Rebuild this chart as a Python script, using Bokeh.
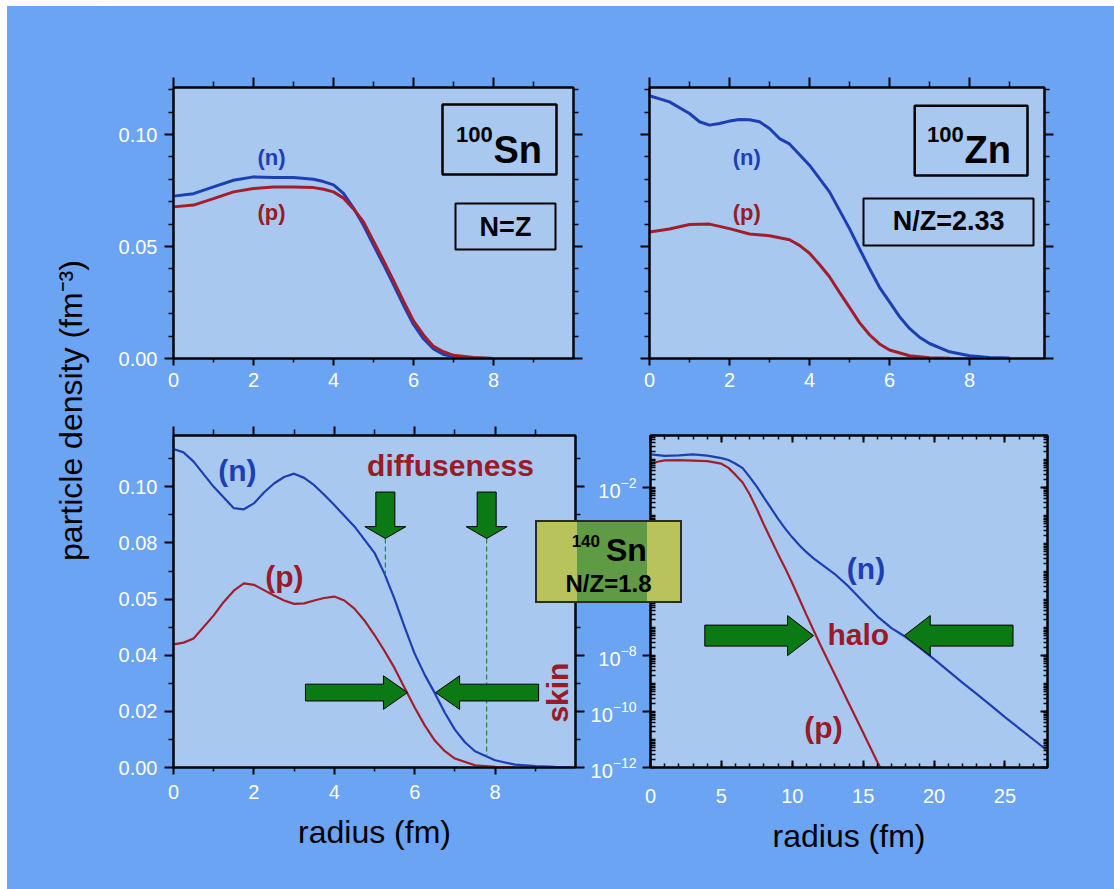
import math
import numpy as np
from bokeh.plotting import figure
from bokeh.layouts import row, column
from bokeh.models import (Range1d, LinearAxis, LogAxis, FixedTicker, Label, Div,
                          BoxAnnotation, CustomJSTickFormatter, PrintfTickFormatter)
from bokeh.embed import file_html
from bokeh.resources import INLINE

# ---------------- data ----------------
# 100Sn (top left)
r_sn100 = [0.0, 0.5, 1.0, 1.5, 2.0, 2.5, 3.0, 3.5, 3.75, 4.0, 4.25, 4.5, 4.75, 5.0, 5.25, 5.5, 5.75,
           6.0, 6.25, 6.5, 6.75, 7.0, 7.5, 8.0]
n_sn100 = [0.0725, 0.0736, 0.0766, 0.0796, 0.0811, 0.0808, 0.0808, 0.0800, 0.0790, 0.0775, 0.0737,
           0.0672, 0.0595, 0.0506, 0.0420, 0.0330, 0.0238, 0.0152, 0.0088, 0.0043, 0.0018, 0.0009,
           0.0002, 0.0]
p_sn100 = [0.0677, 0.0685, 0.0714, 0.0744, 0.0759, 0.0766, 0.0766, 0.0763, 0.0756, 0.0744, 0.0716,
           0.0668, 0.0610, 0.0524, 0.0437, 0.0348, 0.0256, 0.0168, 0.0105, 0.0054, 0.0030, 0.0014,
           0.0004, 0.0]

# 100Zn (top right)
r_zn100_n = [0.0, 0.5, 1.0, 1.25, 1.5, 1.75, 2.0, 2.25, 2.5, 2.75, 3.0, 3.25, 3.5, 4.0, 4.5, 5.0,
             5.25, 5.5, 5.75, 6.0, 6.25, 6.5, 6.75, 7.0, 7.5, 8.0, 8.5, 9.0]
n_zn100 = [0.1173, 0.1146, 0.1094, 0.1057, 0.1042, 0.1049, 0.1060, 0.1067, 0.1066, 0.1057, 0.1027,
           0.0982, 0.0958, 0.0863, 0.0744, 0.0580, 0.0490, 0.0402, 0.0318, 0.0253, 0.0187, 0.0134,
           0.0095, 0.0067, 0.0030, 0.0012, 0.0005, 0.0002]
r_zn100_p = [0.0, 0.5, 1.0, 1.5, 2.0, 2.5, 3.0, 3.5, 3.75, 4.0, 4.25, 4.5, 4.75, 5.0, 5.25, 5.5,
             5.75, 6.0, 6.5, 7.0, 7.5]
p_zn100 = [0.0565, 0.0578, 0.0598, 0.0600, 0.0580, 0.0556, 0.0548, 0.0530, 0.0505, 0.0470, 0.0420,
           0.0365, 0.0295, 0.0228, 0.0160, 0.0106, 0.0065, 0.0038, 0.0012, 0.0003, 0.0001]

# 140Sn linear (bottom left)
r_sn140_n = [0.0, 0.25, 0.5, 1.0, 1.5, 1.75, 2.0, 2.25, 2.5, 2.75, 3.0, 3.25, 3.5, 3.75, 4.0, 4.5,
             5.0, 5.25, 5.5, 5.75, 6.0, 6.25, 6.5, 6.75, 7.0, 7.25, 7.5, 8.0, 8.5, 9.0, 9.5, 9.9]
n_sn140 = [0.1135, 0.1123, 0.1090, 0.1000, 0.0924, 0.0920, 0.0941, 0.0980, 0.1012, 0.1035, 0.1047,
           0.1032, 0.1006, 0.0972, 0.0935, 0.0859, 0.0765, 0.0690, 0.0600, 0.0500, 0.0405, 0.0330,
           0.0265, 0.0195, 0.0135, 0.0090, 0.0058, 0.0026, 0.0010, 0.0005, 0.0002, 0.0001]
r_sn140_p = [0.0, 0.25, 0.5, 1.0, 1.25, 1.5, 1.75, 2.0, 2.25, 2.5, 2.75, 3.0, 3.25, 3.5, 3.75, 4.0,
             4.25, 4.5, 4.75, 5.0, 5.25, 5.5, 5.75, 6.0, 6.25, 6.5, 6.75, 7.0, 7.5, 8.0, 8.5]
p_sn140 = [0.0439, 0.0445, 0.0460, 0.0542, 0.0590, 0.0630, 0.0656, 0.0651, 0.0632, 0.0613, 0.0595,
           0.0583, 0.0585, 0.0595, 0.0604, 0.0609, 0.0595, 0.0566, 0.0524, 0.0472, 0.0415, 0.0354,
           0.0283, 0.0214, 0.0150, 0.0096, 0.0058, 0.0032, 0.0008, 0.0002, 0.0]

# 140Sn logarithmic (bottom right), log10 of the density
r_log_n = [0, 1, 2, 3, 4, 5, 5.5, 6, 6.5, 7, 7.5, 8, 8.5, 9, 9.5, 10, 10.5, 11, 11.5, 12,
           13, 14, 15, 16, 17, 18, 19, 20, 21, 22, 23, 24, 25, 26, 27, 28]
log10_n_sn140 = [-0.82, -0.87, -0.85, -0.82, -0.86, -0.95, -1.02, -1.15, -1.31, -1.63, -1.97, -2.36,
                 -2.74, -3.12, -3.47, -3.78, -4.06, -4.31, -4.53, -4.72, -5.09, -5.55, -6.08, -6.60,
                 -7.02, -7.34, -7.73, -8.13, -8.55, -8.97, -9.37, -9.78, -10.2, -10.6, -11.0, -11.4]
r_log_p = [0, 0.5, 1, 2, 3, 4, 5, 5.5, 6, 6.5, 7, 7.5, 8, 8.5, 9, 9.5, 10, 10.5, 11, 11.5, 12,
           13, 14, 15, 16, 16.2]
log10_p_sn140 = [-1.15, -1.08, -1.03, -1.02, -1.04, -1.06, -1.15, -1.30, -1.55, -1.82, -2.25, -2.77,
                 -3.33, -3.86, -4.38, -4.88, -5.42, -5.98, -6.55, -7.10, -7.64, -8.68, -9.72, -10.76,
                 -11.80, -12.0]

# ticks / tick labels
x_ticks_lin = [0, 2, 4, 6, 8]
x_minor_lin = [1, 3, 5, 7, 9]
y_ticks_top = [0.0, 0.05, 0.10]
y_minor_top = [0.01, 0.02, 0.03, 0.04, 0.06, 0.07, 0.08, 0.09, 0.11, 0.12]
y_ticks_bl = [0.0, 0.02, 0.04, 0.06, 0.08, 0.10]
y_minor_bl = [0.01, 0.03, 0.05, 0.07, 0.09, 0.11]
y_label_override_bl = {0.06: "0.05"}
x_ticks_log = [0, 5, 10, 15, 20, 25]
x_minor_log = list(range(0, 29))
y_ticks_log = [1e-12, 1e-10, 1e-8, 1e-2]
y_minor_log = [k * 10.0 ** e for e in range(-12, 0) for k in range(1, 10)]

# annotation anchors (data units)
diff_x = [5.27, 7.79]
diff_tip_y = 0.0816
skin_tips = [(5.82, 0.0267), (6.52, 0.0267)]
halo_tips = [(11.5, 10 ** -7.29), (17.9, 10 ** -7.29)]

# ---------------- style ----------------
BG = "#6aa4f3"
PANEL = "#a9c8ef"
BLUE = "#1c3fb3"
RED = "#a31e2c"
TRED = "#981b27"
GREEN = "#0c7a14"
FONT = "Liberation Sans"


def base_fig(w, h, xr, yr, L, R, T, B, ylog=False):
    p = figure(width=w, height=h, x_range=Range1d(*xr), y_range=Range1d(*yr),
               y_axis_type="log" if ylog else "linear",
               x_axis_location=None, y_axis_location=None,
               toolbar_location=None, output_backend="svg",
               min_border_left=L, min_border_right=R, min_border_top=T, min_border_bottom=B,
               background_fill_color=PANEL, border_fill_color=BG,
               outline_line_color="black", outline_line_width=2)
    p.xgrid.grid_line_color = None
    p.ygrid.grid_line_color = None
    return p


def axis(p, side, ticks, minor, labels=True, log=False, fmt=None, tin=0, tout=9, mtin=0, mtout=5,
         standoff=6, overrides=None, title=None, title_standoff=4):
    Ax = LogAxis if log else LinearAxis
    ax = Ax(ticker=FixedTicker(ticks=ticks, minor_ticks=minor))
    ax.axis_line_color = "black"
    ax.axis_line_width = 2
    ax.major_tick_line_color = "black"
    ax.major_tick_line_width = 2
    ax.minor_tick_line_color = "black"
    ax.minor_tick_line_width = 1.5
    ax.major_tick_in = tin
    ax.major_tick_out = tout
    ax.minor_tick_in = mtin
    ax.minor_tick_out = mtout
    ax.major_label_text_color = "white"
    ax.major_label_text_font = FONT
    ax.major_label_text_font_size = "20px"
    ax.major_label_standoff = standoff
    if not labels:
        ax.formatter = CustomJSTickFormatter(code="return ''")
        ax.major_label_standoff = 0
    elif fmt is not None:
        ax.formatter = fmt
    if overrides:
        ax.major_label_overrides = overrides
    if title:
        ax.axis_label = title
        ax.axis_label_text_font = FONT
        ax.axis_label_text_font_size = "32px"
        ax.axis_label_text_font_style = "normal"
        ax.axis_label_text_color = "black"
        ax.axis_label_standoff = title_standoff
    p.add_layout(ax, side)
    return ax


def lab(p, x, y, text, size, color="black", bold=True, align="center", angle=0.0):
    # y is the vertical centre of the text
    p.add_layout(Label(x=x, y=y, text=text, text_font=FONT, text_font_size=f"{size}px",
                       text_font_style="bold" if bold else "normal", text_color=color,
                       text_align=align, text_baseline="middle", angle=angle))


def frame_box(p, l, r, b, t, lw=2):
    p.add_layout(BoxAnnotation(left=l, right=r, bottom=b, top=t, fill_color=None, fill_alpha=0,
                               line_color="black", line_alpha=1, line_width=lw))


def h_arrow(tip_x, tip_y, direction, length_px, shaft_px, head_px, head_len_px, sx, yshift):
    tail = tip_x - direction * length_px / sx
    base = tip_x - direction * head_len_px / sx
    xs = [tail, base, base, tip_x, base, base, tail]
    ys = [yshift(tip_y, shaft_px), yshift(tip_y, shaft_px), yshift(tip_y, head_px), tip_y,
          yshift(tip_y, -head_px), yshift(tip_y, -shaft_px), yshift(tip_y, -shaft_px)]
    return xs, ys


def v_arrow(tip_x, tip_y, length_px, shaft_px, head_px, head_len_px, sx, sy):
    top = tip_y + length_px / sy
    base = tip_y + head_len_px / sy
    xs = [tip_x - shaft_px / sx, tip_x + shaft_px / sx, tip_x + shaft_px / sx, tip_x + head_px / sx,
          tip_x, tip_x - head_px / sx, tip_x - shaft_px / sx]
    ys = [top, top, base, base, tip_y, base, base]
    return xs, ys


TOP_H, BOT_H = 392, 491

# ---------------- left strip with the common y title ----------------
S_W, S_H = 93, TOP_H + BOT_H
S = figure(width=S_W, height=S_H, x_range=Range1d(0, S_W), y_range=Range1d(0, S_H),
           x_axis_location=None, y_axis_location=None, toolbar_location=None,
           output_backend="svg", min_border=0, outline_line_color=None,
           background_fill_color=BG, border_fill_color=BG)
S.xgrid.grid_line_color = None
S.ygrid.grid_line_color = None
S.add_layout(Label(x=63, y=S_H - 404, text="particle density (fm⁻³)", angle=math.pi / 2,
                   text_align="center", text_baseline="middle", text_font=FONT,
                   text_font_size="32px", text_color="black"))

# ---------------- top left: 100Sn ----------------
TL = base_fig(511, TOP_H, (0, 10), (0, 0.121), 73, 38, 81, 40)
axis(TL, "below", x_ticks_lin, x_minor_lin, tout=7, mtout=4, standoff=7)
axis(TL, "above", x_ticks_lin, x_minor_lin, labels=False, tout=10, mtout=6)
axis(TL, "left", y_ticks_top, y_minor_top, fmt=PrintfTickFormatter(format="%.2f"), standoff=7)
axis(TL, "right", y_ticks_top, y_minor_top, labels=False)
TL.line(r_sn100, n_sn100, line_color=BLUE, line_width=3)
TL.line(r_sn100, p_sn100, line_color=RED, line_width=3)
lab(TL, 2.45, 0.0897, "(n)", 22, BLUE)
lab(TL, 2.45, 0.0652, "(p)", 22, TRED)
frame_box(TL, 6.725, 9.575, 0.0821, 0.1134, lw=2.5)
lab(TL, 8.0, 0.0933, "Sn", 38, align="left")
lab(TL, 7.98, 0.1000, "100", 22, align="right")
frame_box(TL, 7.05, 9.55, 0.0487, 0.0692)
lab(TL, 8.3, 0.0589, "N=Z", 27)

# ---------------- top right: 100Zn ----------------
TR = base_fig(503, TOP_H, (0, 9.875), (0, 0.121), 38, 70, 81, 40)
axis(TR, "below", x_ticks_lin, x_minor_lin, tout=7, mtout=4, standoff=7)
axis(TR, "above", x_ticks_lin, x_minor_lin, labels=False, tout=10, mtout=6)
axis(TR, "left", y_ticks_top, y_minor_top, labels=False)
axis(TR, "right", y_ticks_top, y_minor_top, labels=False)
TR.line(r_zn100_n, n_zn100, line_color=BLUE, line_width=3)
TR.line(r_zn100_p, p_zn100, line_color=RED, line_width=3)
lab(TR, 2.43, 0.0897, "(n)", 22, BLUE)
lab(TR, 2.43, 0.0652, "(p)", 22, TRED)
frame_box(TR, 6.63, 9.45, 0.0817, 0.1129, lw=2.5)
lab(TR, 7.875, 0.0933, "Zn", 38, align="left")
lab(TR, 7.855, 0.1000, "100", 22, align="right")
frame_box(TR, 5.35, 9.6, 0.0504, 0.0714)
lab(TR, 7.48, 0.0612, "N/Z=2.33", 27)

# ---------------- bottom left: 140Sn linear ----------------
BL_W, BL_L, BL_R, BL_T, BL_B = 487, 73, 12, 37, 118
BL_X, BL_Y = (0, 10), (0, 0.1183)
BL = base_fig(BL_W, BOT_H, BL_X, BL_Y, BL_L, BL_R, BL_T, BL_B)
bl_sx = (BL_W - BL_L - BL_R) / (BL_X[1] - BL_X[0])
bl_sy = (BOT_H - BL_T - BL_B) / (BL_Y[1] - BL_Y[0])
axis(BL, "below", x_ticks_lin, x_minor_lin, tout=7, mtout=4, standoff=10, title="radius (fm)",
     title_standoff=12)
axis(BL, "above", x_ticks_lin, x_minor_lin, labels=False, tout=9, mtout=6)
axis(BL, "left", y_ticks_bl, y_minor_bl, fmt=PrintfTickFormatter(format="%.2f"), standoff=7,
     overrides=y_label_override_bl)
axis(BL, "right", y_ticks_bl, y_minor_bl, labels=False)
BL.line(r_sn140_n, n_sn140, line_color=BLUE, line_width=2.2)
BL.line(r_sn140_p, p_sn140, line_color=RED, line_width=2.2)
diff_bottom = list(np.interp(diff_x, r_sn140_n, n_sn140))
BL.segment(x0=diff_x, y0=[diff_tip_y] * 2, x1=diff_x, y1=diff_bottom,
           line_color="#1f8a3c", line_width=1.2, line_dash="5 3")
arr_xs, arr_ys = [], []
for dx in diff_x:
    xs, ys = v_arrow(dx, diff_tip_y, 47, 9.5, 20.5, 12, bl_sx, bl_sy)
    arr_xs.append(xs)
    arr_ys.append(ys)
lin_shift = lambda y, d: y + d / bl_sy
for (tx, ty), direction, length in zip(skin_tips, [1, -1], [102, 103]):
    xs, ys = h_arrow(tx, ty, direction, length, 8.5, 17, 24, bl_sx, lin_shift)
    arr_xs.append(xs)
    arr_ys.append(ys)
BL.patches(arr_xs, arr_ys, fill_color=GREEN, line_color="black", line_width=1)
lab(BL, 1.59, 0.1059, "(n)", 30, BLUE)
lab(BL, 2.76, 0.0679, "(p)", 30, TRED)
lab(BL, 6.89, 0.1076, "diffuseness", 30, TRED)
lab(BL, 9.55, 0.0267, "skin", 30, TRED, angle=math.pi / 2)

# ---------------- bottom right: 140Sn logarithmic ----------------
BR_W, BR_L, BR_R, BR_T, BR_B = 527, 62, 67, 37, 122
BR_X = (0, 28)
DEC_PX = 28.0
BR_Y = (1e-12, 10 ** (-12 + (BOT_H - BR_T - BR_B) / DEC_PX))
BR = base_fig(BR_W, BOT_H, BR_X, BR_Y, BR_L, BR_R, BR_T, BR_B, ylog=True)
br_sx = (BR_W - BR_L - BR_R) / (BR_X[1] - BR_X[0])
axis(BR, "below", x_ticks_log, x_minor_log, tin=7, tout=0, mtin=4, mtout=0, standoff=21,
     title="radius (fm)", title_standoff=12)
axis(BR, "above", x_ticks_log, x_minor_log, labels=False, tin=7, tout=0, mtin=4, mtout=0)
axis(BR, "left", y_ticks_log, y_minor_log, log=True, tin=0, tout=8, mtin=5, mtout=0, standoff=6)
axis(BR, "right", y_ticks_log, y_minor_log, log=True, labels=False, tin=7, tout=0, mtin=4, mtout=0)
BR.line(r_log_n, list(np.power(10.0, log10_n_sn140)), line_color=BLUE, line_width=2.2)
BR.line(r_log_p, list(np.power(10.0, log10_p_sn140)), line_color=RED, line_width=2.2)
log_shift = lambda y, d: y * 10 ** (d / DEC_PX)
hx, hy = [], []
for (tx, ty), direction in zip(halo_tips, [1, -1]):
    xs, ys = h_arrow(tx, ty, direction, 109, 10.5, 20, 26, br_sx, log_shift)
    hx.append(xs)
    hy.append(ys)
BR.patches(hx, hy, fill_color=GREEN, line_color="black", line_width=1)
lab(BR, 15.2, 10 ** -4.89, "(n)", 30, BLUE)
lab(BR, 12.2, 10 ** -10.57, "(p)", 30, TRED)
lab(BR, 14.65, 10 ** -7.25, "halo", 30, TRED)

# ---------------- 140Sn box straddling the two lower panels (HTML overlay) ----------------
BOX_W, BOX_H = 147, 83
box_html = (
    '<div style="position:relative;width:147px;height:83px;box-sizing:border-box;'
    'border:2px solid #2a2a2a;'
    'background:linear-gradient(to right,#b9c35c 0px,#b9c35c 40px,#5f9a44 40px,#5f9a44 110px,'
    '#b9c35c 110px,#b9c35c 100%);'
    "font-family:'Liberation Sans',Arial,sans-serif;font-weight:bold;color:#000;\">"
    '<div style="position:absolute;right:80px;top:11px;font-size:17px;line-height:17px;'
    'white-space:nowrap;">140</div>'
    '<div style="position:absolute;left:69px;top:12px;font-size:32px;line-height:32px;'
    'white-space:nowrap;">Sn</div>'
    '<div style="position:absolute;left:0px;width:143px;top:50px;font-size:24px;line-height:24px;'
    'text-align:center;white-space:nowrap;">N/Z=1.8</div>'
    '</div>'
)
row_w = BL_W + BR_W
BOX = Div(text=box_html, width=BOX_W, height=BOX_H,
          margin=(520 - 398, row_w - (535 - 100) - BOX_W, 0, (535 - 100) - row_w),
          styles={"position": "relative", "z-index": "10"})

# ---------------- layout ----------------
layout = row(S, column(row(TL, TR), row(BL, BR, BOX)), styles={"background-color": BG},
             margin=(6, 0, 0, 7))

with open("out.html", "w") as f:
    f.write(file_html(layout, INLINE, title="particle density"))
